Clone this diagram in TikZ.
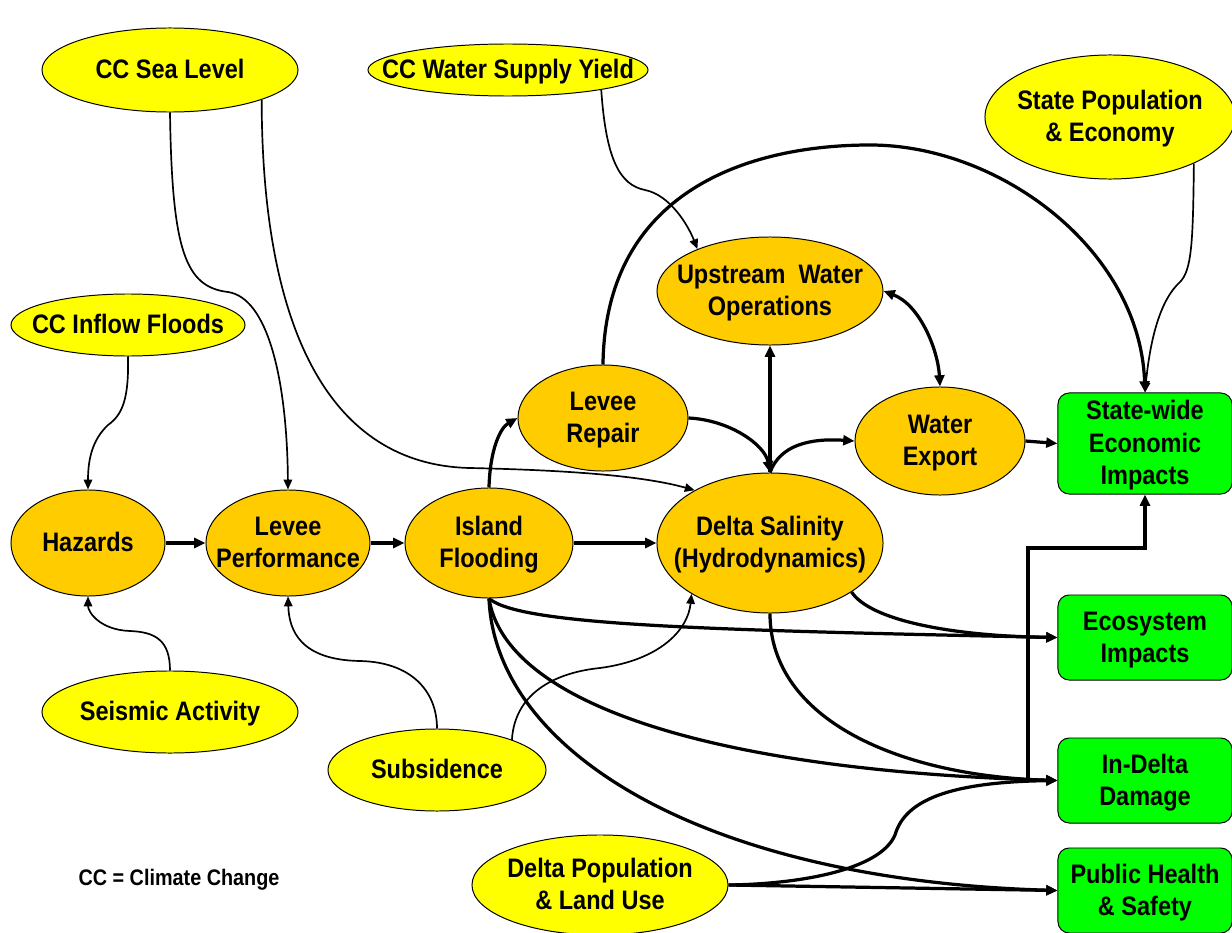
\documentclass[tikz,border=0pt]{standalone}
\usepackage{fontspec}
\newfontfamily\diagfont{Liberation Sans}[FakeStretch=0.88]
\usetikzlibrary{shapes.geometric,arrows.meta}
\usepackage{xcolor}
\definecolor{driverYellow}{HTML}{FFFF00}
\definecolor{stepOrange}{HTML}{FFCC00}
\definecolor{impactGreen}{HTML}{00FF00}
\newcommand{\ctext}[1]{\makebox[0pt]{\raisebox{-1.6pt}[\height][\depth]{\begin{tabular}{@{}c@{}}#1\end{tabular}}}}
\tikzset{
dims/.style 2 args={minimum width=#1, minimum height=#2},
driver/.style={ellipse, draw=black, fill=driverYellow, line width=0.7pt, inner sep=0pt, font=\diagfont\bfseries\fontsize{19}{23}\selectfont},
stepnode/.style={ellipse, draw=black, fill=stepOrange, line width=0.7pt, inner sep=0pt, font=\diagfont\bfseries\fontsize{19}{23}\selectfont},
impact/.style={rectangle, rounded corners=8pt, draw=black, fill=impactGreen, line width=0.7pt, inner sep=0pt, minimum width=4.35cm, minimum height=2.125cm, font=\diagfont\bfseries\fontsize{19}{23}\selectfont},
flow/.style={-{Triangle[length=8pt,width=7pt]}, line width=2.3pt},
infl/.style={-{Triangle[length=7pt,width=6pt]}, line width=1.2pt},
note/.style={font=\diagfont\bfseries\fontsize{16}{19}\selectfont, inner sep=0pt}
}

\begin{document}
\begin{tikzpicture}[x=0.025cm, y=-0.025cm]
\useasboundingbox (0,0) rectangle (1232,933);

% outside drivers
\node[driver, dims={6.4cm}{2.1cm}] (seaLevel) at (170,70) {\ctext{CC Sea Level}};
\node[driver, dims={7.0cm}{1.3cm}] (supplyYield) at (508,70) {\ctext{CC Water Supply Yield}};
\node[driver, dims={6.25cm}{3.1cm}] (statePop) at (1110,117) {\ctext{State Population\\\& Economy}};
\node[driver, dims={5.85cm}{1.55cm}] (inflowFloods) at (128,325) {\ctext{CC Inflow Floods}};
\node[driver, dims={6.4cm}{2.05cm}] (seismic) at (170,712) {\ctext{Seismic Activity}};
\node[driver, dims={5.45cm}{2.05cm}] (subsidence) at (437,770) {\ctext{Subsidence}};
\node[driver, dims={6.4cm}{2.5cm}] (deltaPop) at (600,885) {\ctext{Delta Population\\\& Land Use}};

% delta processes
\node[stepnode, dims={3.85cm}{2.65cm}] (hazards) at (88,543) {\ctext{Hazards}};
\node[stepnode, dims={4.1cm}{2.65cm}] (leveePerf) at (288,543) {\ctext{Levee\\Performance}};
\node[stepnode, dims={4.2cm}{2.75cm}] (islandFlood) at (489,543) {\ctext{Island\\Flooding}};
\node[stepnode, dims={5.65cm}{3.5cm}] (salinity) at (770,543) {\ctext{Delta Salinity\\(Hydrodynamics)}};
\node[stepnode, dims={4.25cm}{2.65cm}] (leveeRepair) at (603,418) {\ctext{Levee\\Repair}};
\node[stepnode, dims={5.65cm}{2.7cm}] (upstream) at (770,291) {\ctext{Upstream\ \ Water\\Operations}};
\node[stepnode, dims={4.25cm}{2.7cm}] (waterExport) at (940,441) {\ctext{Water\\Export}};

% impacts
\node[impact, minimum height=2.525cm] (econ) at (1145,443.5) {\ctext{State-wide\\Economic\\Impacts}};
\node[impact] (ecosystem) at (1145,637.5) {\ctext{Ecosystem\\Impacts}};
\node[impact] (inDelta) at (1145,780.5) {\ctext{In-Delta\\Damage}};
\node[impact] (health) at (1145,890.5) {\ctext{Public Health\\\& Safety}};

\node[note] (ccNote) at (179,880) {CC = Climate Change};

% thin influence links
\draw[infl] (seaLevel.south) .. controls (172,250) and (185,287) .. (228,292) .. controls (268,298) and (287,380) .. (leveePerf.north);
\draw[infl] (seaLevel.-18) .. controls (262,330) and (330,465) .. (470,468) .. controls (560,470) and (640,475) .. (salinity.145);
\draw[infl] (supplyYield.-12) .. controls (606,160) and (620,185) .. (645,190) .. controls (670,195) and (688,225) .. (upstream.150);
\draw[infl] (inflowFloods.south) .. controls (129,400) and (122,415) .. (108,425) .. controls (92,440) and (88,460) .. (hazards.north);
\draw[infl] (seismic.north) .. controls (170,640) and (155,632) .. (130,631) .. controls (100,630) and (88,612) .. (hazards.south);
\draw[infl] (subsidence.north) .. controls (437,690) and (410,662) .. (360,661) .. controls (300,660) and (289,630) .. (leveePerf.south);
\draw[infl] (subsidence.22) .. controls (515,690) and (560,672) .. (600,668) .. controls (660,660) and (688,630) .. (salinity.213);
\draw[infl] (statePop.-29) .. controls (1193,240) and (1192,270) .. (1180,282) .. controls (1160,300) and (1150,340) .. (econ.north);

% main chain
\draw[flow] (hazards) -- (leveePerf);
\draw[flow] (leveePerf) -- (islandFlood);
\draw[flow] (islandFlood) -- (salinity);
\draw[flow] (islandFlood.north) .. controls (490,450) and (500,428) .. (leveeRepair.west);
\draw[flow] (leveeRepair.east) .. controls (730,420) and (765,445) .. (salinity.north);
\draw[flow] (salinity.north) -- (upstream.south);
\draw[flow] (salinity.north) .. controls (780,445) and (810,438) .. (waterExport.west);
\draw[{Triangle[length=8pt,width=7pt]}-{Triangle[length=8pt,width=7pt]}, line width=2.3pt] (upstream.east) .. controls (920,305) and (938,350) .. (waterExport.north);
\draw[flow] (leveeRepair.north) .. controls (605,190) and (750,145) .. (870,145) .. controls (1000,145) and (1140,250) .. (econ.north);
\draw[flow] (waterExport.east) -- (econ.west);

% to impacts
\draw[flow] (islandFlood.south) .. controls (520,625) and (700,630) .. (ecosystem.west);
\draw[flow] (salinity.-31) .. controls (870,620) and (950,636) .. (ecosystem.west);
\draw[flow] (salinity.south) .. controls (770,720) and (900,776) .. (inDelta.west);
\draw[flow] (islandFlood.south) .. controls (505,700) and (700,770) .. (inDelta.west);
\draw[flow] (islandFlood.south) .. controls (495,750) and (700,880) .. (health.west);
\draw[flow] (deltaPop.east) .. controls (800,884) and (880,870) .. (895,835) .. controls (905,800) and (950,782) .. (inDelta.west);
\draw[flow] (deltaPop.east) -- (health.west);
\coordinate (merge) at (1028,780);
\coordinate (bend) at (1145,548);
\draw[flow] (merge) |- (bend) -- (econ.south);
\end{tikzpicture}
\end{document}
